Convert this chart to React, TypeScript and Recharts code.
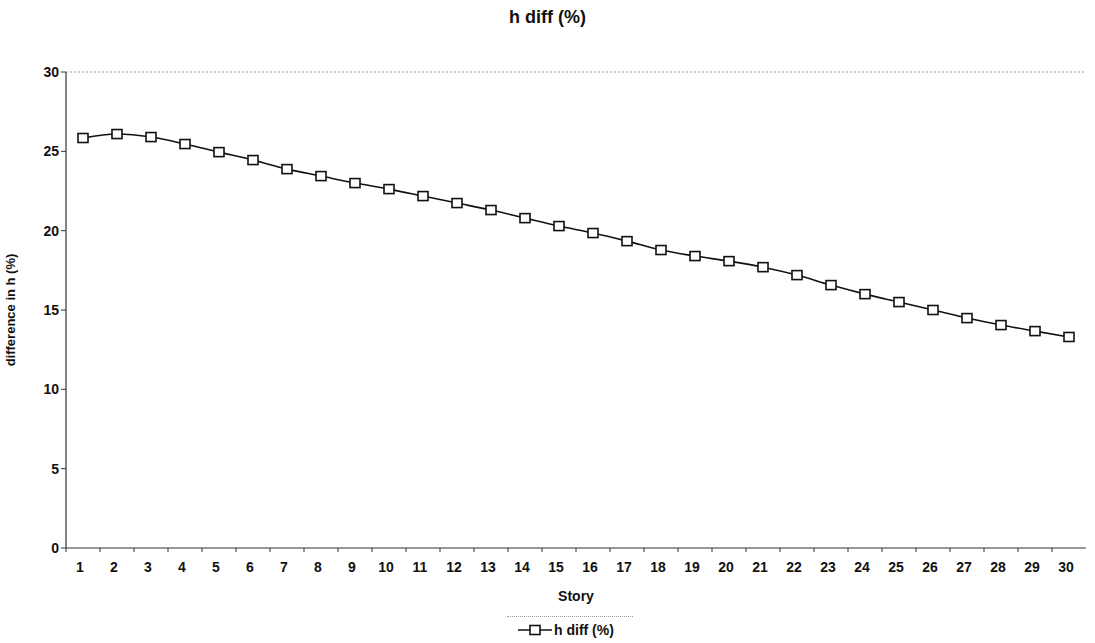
import React from "react";
import { LineChart, Line, XAxis, YAxis, Legend, ReferenceLine } from "recharts";

const stories = [1,2,3,4,5,6,7,8,9,10,11,12,13,14,15,16,17,18,19,20,21,22,23,24,25,26,27,28,29,30];
const hDiff = [25.84,26.09,25.9,25.46,24.95,24.45,23.88,23.44,23.0,22.62,22.18,21.74,21.3,20.79,20.29,19.85,19.34,18.78,18.4,18.08,17.7,17.2,16.57,16.0,15.5,15.0,14.49,14.05,13.67,13.3];
const yTicks = [0,5,10,15,20,25,30];
const seriesName = "h diff (%)";

const data = stories.map((s, i) => ({ story: s, v: hDiff[i] }));

const FONT = "'Liberation Sans', Arial, sans-serif";

const SquareDot = (props: any) => {
  const { cx, cy } = props;
  if (cx == null || cy == null) return null;
  return <rect x={cx - 5} y={cy - 4.5} width={10} height={9} fill="#fff" stroke="#111" strokeWidth={1.6} />;
};

const XTick = (props: any) => {
  const { x, y, payload } = props;
  const off = payload && payload.offset ? payload.offset : 0;
  return (
    <g>
      <line x1={x - off} x2={x - off} y1={y - 8} y2={y - 4} stroke="#333" strokeWidth={1} />
      <text x={x - 3} y={y + 16} textAnchor="middle" fontFamily={FONT} fontWeight="bold" fontSize={14} fill="#111">
        {payload.value}
      </text>
    </g>
  );
};

const LegendContent = () => (
  <div style={{ width: 1095, height: 35, position: "relative", fontFamily: FONT }}>
    <div style={{ position: "absolute", left: 507, top: 8, width: 126, borderTop: "1px dotted #999" }} />
    <div style={{ position: "absolute", left: 518, top: 14, display: "flex", alignItems: "center" }}>
      <svg width={34} height={14}>
        <line x1={0} x2={34} y1={7} y2={7} stroke="#111" strokeWidth={1.6} />
        <rect x={12} y={2.5} width={10} height={9} fill="#fff" stroke="#111" strokeWidth={1.6} />
      </svg>
      <span style={{ fontSize: 14, fontWeight: "bold", color: "#111", marginLeft: 2 }}>{seriesName}</span>
    </div>
  </div>
);

export default function App() {
  return (
    <div style={{ position: "absolute", left: 0, top: 0, width: 1095, height: 643, background: "#fff" }}>
      <div style={{ position: "absolute", top: 7, left: 0, width: 1095, textAlign: "center", fontFamily: FONT, fontWeight: "bold", fontSize: 18, color: "#111" }}>
        h diff (%)
      </div>
      <LineChart width={1095} height={643} data={data} margin={{ top: 72, right: 9, left: 0, bottom: 0 }}>
        <ReferenceLine y={30} stroke="#999" strokeDasharray="2 2" />
        <XAxis
          dataKey="story"
          scale="band"
          height={60}
          axisLine={{ stroke: "#333", strokeWidth: 1.2 }}
          tickLine={false}
          tick={<XTick />}
          interval={0}
          label={{ value: "Story", position: "insideBottom", offset: 7, style: { fontFamily: FONT, fontWeight: "bold", fontSize: 14, fill: "#111" } }}
        />
        <YAxis
          domain={[0, 30]}
          ticks={yTicks}
          width={66}
          axisLine={{ stroke: "#333", strokeWidth: 1.2 }}
          tickLine={{ stroke: "#333" }}
          tickSize={5}
          tick={{ fontFamily: FONT, fontWeight: "bold", fontSize: 14, fill: "#111" }}
          label={{ value: "difference in h (%)", angle: -90, position: "insideLeft", offset: 10, style: { textAnchor: "middle", fontFamily: FONT, fontWeight: "bold", fontSize: 13, fill: "#111" } }}
        />
        <Legend verticalAlign="bottom" height={35} content={<LegendContent />} />
        <Line
          type="monotone"
          dataKey="v"
          name={seriesName}
          stroke="#111"
          strokeWidth={1.6}
          dot={<SquareDot />}
          activeDot={false}
          isAnimationActive={false}
        />
      </LineChart>
    </div>
  );
}
